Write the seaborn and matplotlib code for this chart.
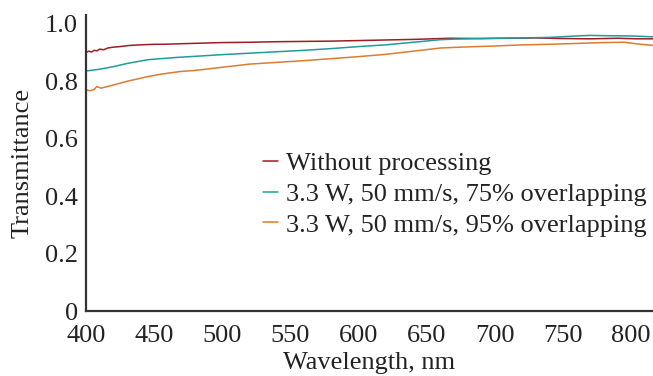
import matplotlib
matplotlib.use("Agg")
import matplotlib.pyplot as plt
import seaborn as sns
import pandas as pd

labels = ["Without processing",
          "3.3 W, 50 mm/s, 75% overlapping",
          "3.3 W, 50 mm/s, 95% overlapping"]
colors = ["#9e1c24", "#1f9c9c", "#e07a2c"]

wl_raw = [400, 402, 404, 406, 408, 410, 413, 416, 420, 425, 432, 440, 450, 457, 470,
          485, 500, 520, 540, 560, 580, 600, 620, 640, 667, 690, 710, 730, 750, 770,
          790, 805, 816]
t_raw = [0.900, 0.905, 0.902, 0.908, 0.906, 0.912, 0.910, 0.916, 0.919, 0.921, 0.925,
         0.927, 0.929, 0.929, 0.931, 0.933, 0.935, 0.936, 0.938, 0.939, 0.940, 0.942,
         0.944, 0.946, 0.950, 0.949, 0.950, 0.951, 0.949, 0.948, 0.950, 0.948, 0.948]

wl_75 = [400, 410, 420, 430, 445, 455, 469, 480, 500, 520, 540, 560, 580, 600, 620,
         640, 660, 670, 680, 700, 720, 740, 760, 770, 780, 800, 816]
t_75 = [0.836, 0.842, 0.851, 0.862, 0.875, 0.879, 0.884, 0.887, 0.893, 0.898, 0.903,
        0.908, 0.914, 0.921, 0.927, 0.936, 0.945, 0.947, 0.948, 0.950, 0.951, 0.953,
        0.958, 0.960, 0.959, 0.958, 0.955]

wl_95 = [400, 403, 406, 408, 411, 415, 420, 430, 445, 455, 469, 480, 500, 520, 540,
         560, 580, 600, 620, 640, 660, 680, 700, 720, 740, 760, 780, 795, 805, 816]
t_95 = [0.770, 0.767, 0.772, 0.782, 0.776, 0.781, 0.787, 0.800, 0.816, 0.825, 0.834,
        0.838, 0.849, 0.860, 0.866, 0.872, 0.879, 0.886, 0.894, 0.905, 0.916, 0.920,
        0.923, 0.927, 0.929, 0.932, 0.935, 0.936, 0.930, 0.925]

xticks = [400, 450, 500, 550, 600, 650, 700, 750, 800]
yticks = [0, 0.2, 0.4, 0.6, 0.8, 1.0]
yticklabels = ["0", "0.2", "0.4", "0.6", "0.8", "1.0"]

df = pd.concat([
    pd.DataFrame({"wl": wl_raw, "T": t_raw, "s": labels[0]}),
    pd.DataFrame({"wl": wl_75, "T": t_75, "s": labels[1]}),
    pd.DataFrame({"wl": wl_95, "T": t_95, "s": labels[2]}),
], ignore_index=True)

sns.set_style("white")
plt.rcParams["font.family"] = ["Liberation Serif", "DejaVu Serif"]
FS = 19

fig = plt.figure(figsize=(6.53, 3.76), dpi=100)
ax = fig.add_axes([86/653, 1-311/376, 1-86/653, (311-15)/376])

sns.lineplot(data=df, x="wl", y="T", hue="s", hue_order=labels,
             palette=colors, sort=False, estimator=None, linewidth=1.1, ax=ax)

ax.set_xlim(400, 816)
ax.set_ylim(0, 1.031)
ax.set_xticks(xticks)
ax.set_xticklabels([str(v) for v in xticks])
ax.set_yticks(yticks)
ax.set_yticklabels(yticklabels)
ax.tick_params(direction="in", length=9, width=1.2, color="#333333",
               labelsize=FS, labelcolor="#222222")
ax.tick_params(axis="x", pad=10)
ax.tick_params(axis="y", pad=6)
for s in ["top", "right"]:
    ax.spines[s].set_visible(False)
for s in ["left", "bottom"]:
    ax.spines[s].set_color("#333333")
    ax.spines[s].set_linewidth(1.6)

ax.set_xlabel("Wavelength, nm", fontsize=FS, color="#222222", labelpad=4)
ax.set_ylabel("Transmittance", fontsize=FS, color="#222222", labelpad=8)

leg = ax.legend(loc="center left", bbox_to_anchor=(263/653, 1-194/376),
                bbox_transform=fig.transFigure, frameon=False, fontsize=FS,
                handlelength=0.57, handletextpad=0.3, labelspacing=0.28,
                borderpad=0, borderaxespad=0)
for t in leg.get_texts():
    t.set_color("#222222")

fig.savefig("out.png", dpi=100)
